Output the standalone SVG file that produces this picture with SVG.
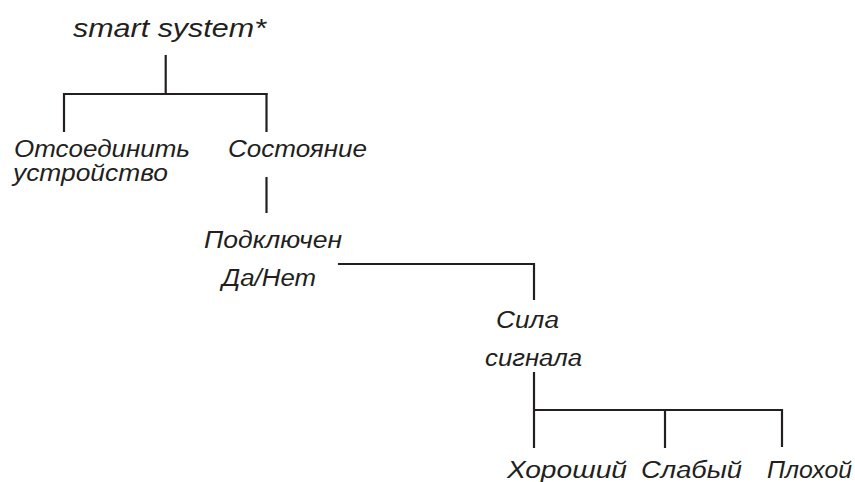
<svg xmlns="http://www.w3.org/2000/svg" width="855" height="482" viewBox="0 0 855 482">
<style>
text{font-family:"Liberation Sans",Arial,sans-serif;font-style:italic;font-size:23.5px;fill:#231f20}
.t{font-size:25.5px}
.c line{stroke:#231f20;stroke-width:2.2;stroke-linecap:butt}
</style>
<rect width="855" height="482" fill="#fff"/>
<g class="c" id="connectors">
<line x1="165.7" y1="55" x2="165.7" y2="95"/>
<line x1="63" y1="94" x2="267.5" y2="94"/>
<line x1="64" y1="93" x2="64" y2="132"/>
<line x1="266.5" y1="93" x2="266.5" y2="132"/>
<line x1="266.5" y1="177" x2="266.5" y2="213"/>
<line x1="338" y1="264" x2="535" y2="264"/>
<line x1="534" y1="263" x2="534" y2="300"/>
<line x1="534" y1="372" x2="534" y2="448"/>
<line x1="534" y1="410" x2="783" y2="410"/>
<line x1="665" y1="409" x2="665" y2="448"/>
<line x1="782" y1="409" x2="782" y2="447"/>
</g>
<g id="root"><text class="t" x="73" y="37" textLength="193" lengthAdjust="spacingAndGlyphs">smart system*</text></g>
<g id="disconnect">
<text x="14" y="157" textLength="176" lengthAdjust="spacingAndGlyphs">Отсоединить</text>
<text x="13" y="181" textLength="155" lengthAdjust="spacingAndGlyphs">устройство</text>
</g>
<g id="state"><text x="228" y="157" textLength="139" lengthAdjust="spacingAndGlyphs">Состояние</text></g>
<g id="connected">
<text x="204" y="248" textLength="138" lengthAdjust="spacingAndGlyphs">Подключен</text>
<text x="222" y="286" textLength="94" lengthAdjust="spacingAndGlyphs">Да/Нет</text>
</g>
<g id="signal">
<text x="496" y="328" textLength="63" lengthAdjust="spacingAndGlyphs">Сила</text>
<text x="485" y="366" textLength="97" lengthAdjust="spacingAndGlyphs">сигнала</text>
</g>
<g id="good"><text x="507" y="478" textLength="120" lengthAdjust="spacingAndGlyphs">Хороший</text></g>
<g id="weak"><text x="641" y="478" textLength="101" lengthAdjust="spacingAndGlyphs">Слабый</text></g>
<g id="bad"><text x="767" y="478" textLength="85" lengthAdjust="spacingAndGlyphs">Плохой</text></g>
</svg>
